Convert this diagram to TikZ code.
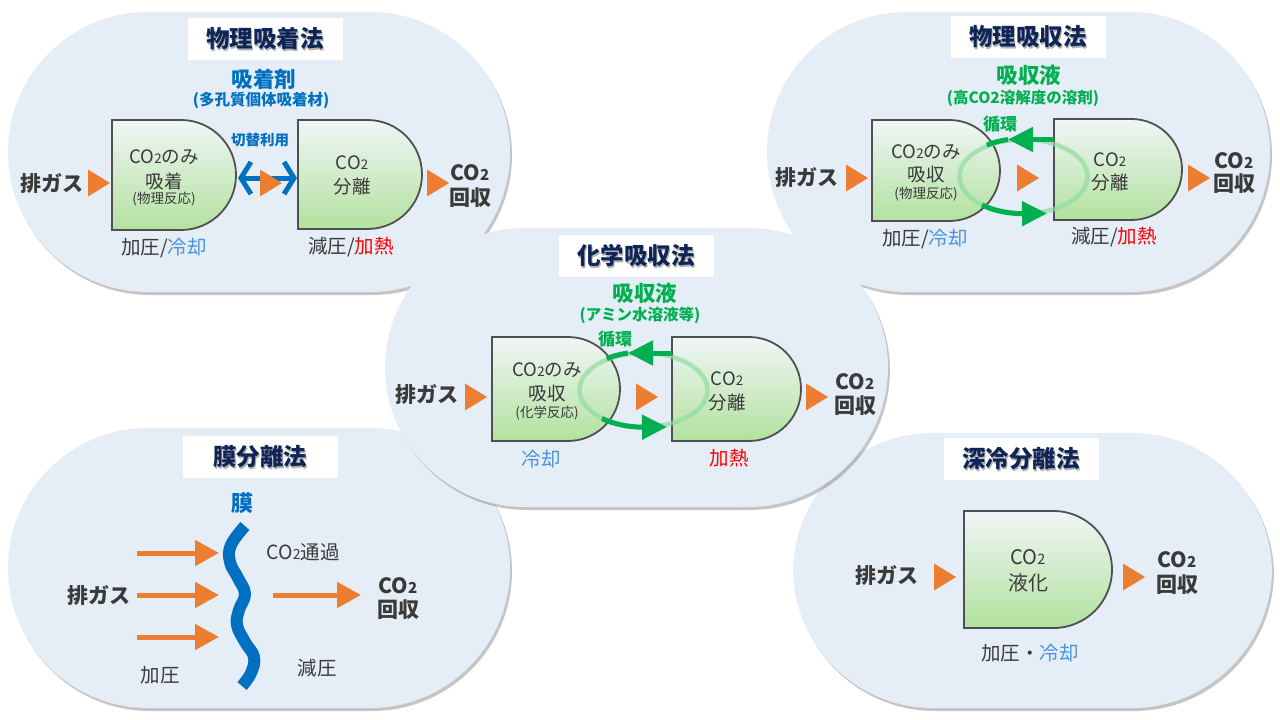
\documentclass[tikz,border=0pt]{standalone}
\usepackage{fontspec}
\setmainfont{Noto Sans CJK JP}
\usepackage{graphicx}
\usetikzlibrary{arrows.meta, shadows}
\definecolor{panelBack} {HTML}{E5EDF7}
\definecolor{titleNavy} {HTML}{0F2557}
\definecolor{inkgray}   {HTML}{3A3A3A}
\definecolor{sorbBlue}  {HTML}{0070C0}
\definecolor{coolBlue}  {HTML}{4A94DC}
\definecolor{heatRed}   {HTML}{FF0000}
\definecolor{liqGreen}  {HTML}{00B050}
\definecolor{ringGreen} {HTML}{8FDDA0}
\definecolor{gasOrange} {HTML}{ED7D31}
\definecolor{boxTop}    {HTML}{F0F6F7}
\definecolor{boxBottom} {HTML}{B2E19E}
\definecolor{boxLine}   {HTML}{505050}
\newcommand\cotwo{CO\scalebox{0.72}{2}}
\newcommand\gastri[1]{\fill[gasOrange] (#1) ++(-11,-13.5) -- ++(22,13.5) -- ++(-22,13.5) -- cycle;}
\newcommand\dshape[4]{\draw[dbox] (#1,#2) -- ({#1+#3-#4/2},#2)
    arc[start angle=-90, end angle=90, radius={#4/2}] -- (#1,{#2+#4}) -- cycle;}
\newcommand\methodtitle[3]{\node[titlebox] (#1) at (#2) {};
  \node[titletxt, text=black!30] at ([xshift=1.2pt,yshift=-1.2pt]#1.center) {#3};
  \node[titletxt] at (#1.center) {#3};}

\begin{document}
\begin{tikzpicture}[x=1pt, y=-1pt,
    panel/.style={fill=panelBack, rounded corners=140pt,
        drop shadow={shadow xshift=2pt, shadow yshift=-3pt, fill=black!50, opacity=.45}},
    titlebox/.style={fill=white, minimum width=155pt, minimum height=42pt, inner sep=0pt},
    titletxt/.style={font=\fontsize{23.5}{26}\selectfont\bfseries, text=titleNavy, inner sep=0pt},
    dbox/.style={draw=boxLine, line width=1.8pt, top color=boxTop, bottom color=boxBottom},
    txt/.style={font=\fontsize{18.5}{22}\selectfont, text=inkgray, inner sep=0pt},
    note/.style={font=\fontsize{13.5}{15}\selectfont, text=inkgray, inner sep=0pt},
    cond/.style={font=\fontsize{19.5}{22}\selectfont, text=inkgray, inner sep=0pt},
    gas/.style={font=\fontsize{21}{24}\selectfont\bfseries, text=inkgray, inner sep=0pt},
    agent/.style={font=\fontsize{21.5}{24}\selectfont\bfseries, inner sep=0pt},
    agentsub/.style={font=\fontsize{15.5}{17}\selectfont\bfseries, inner sep=0pt},
    ring/.style={draw=ringGreen, line width=4.5pt, opacity=.7},
    circline/.style={draw=liqGreen, line width=5pt},
    circarr/.style={circline, -{Triangle[length=25pt,width=24pt]}},
    swaparr/.style={draw=sorbBlue, line width=5pt,
        {Straight Barb[length=10pt,width=32pt]}-{Straight Barb[length=10pt,width=32pt]}},
    gasarr/.style={draw=gasOrange, line width=5pt, -{Triangle[length=24pt,width=25pt]}},
    membrane/.style={draw=sorbBlue, line width=12pt}
]
\fill[white] (0,0) rectangle (1280,720);
\useasboundingbox (0,0) rectangle (1280,720);

% ---- physical adsorption
\fill[panel] (8,12) rectangle (510,292);
\methodtitle{t1}{265,39}{物理吸着法}
\node[agent, text=sorbBlue] (ag1) at (264,79) {吸着剤};
\node[agentsub, text=sorbBlue] (ag1s) at (261,100) {(多孔質個体吸着材)};
\dshape{112}{120}{124}{110}
\dshape{298}{120}{124}{109}
\node[txt] (a1a) at (164,157) {\cotwo のみ};
\node[txt] (a1b) at (164,181) {吸着};
\node[note] (a1c) at (164,199) {(物理反応)};
\node[txt] (a2a) at (352,163) {\cotwo};
\node[txt] (a2b) at (352,187) {分離};
\node[gas] (g1) at (52,183) {排ガス};
\coordinate (g1t) at (99,183);
\gastri{g1t}
\coordinate (sw1) at (238,178);
\coordinate (sw2) at (297,178);
\draw[swaparr] (sw1) -- (sw2);
\node[agentsub, text=sorbBlue, font=\fontsize{14.5}{16}\selectfont\bfseries] (sw) at (260,140) {切替利用};
\coordinate (m1t) at (271,183);
\gastri{m1t}
\coordinate (r1t) at (438,183);
\gastri{r1t}
\node[gas] (r1a) at (470,173) {\cotwo};
\node[gas] (r1b) at (470,198) {回収};
\node[cond] (c1a) at (164,248) {加圧/\textcolor{coolBlue}{冷却}};
\node[cond] (c1b) at (351,247) {減圧/\textcolor{heatRed}{加熱}};

% ---- physical absorption
\fill[panel] (767,12) rectangle (1270,292);
\methodtitle{t2}{1028,37}{物理吸収法}
\node[agent, text=liqGreen] (ag2) at (1029,75) {吸収液};
\node[agentsub, text=liqGreen] (ag2s) at (1023,98) {(高CO2溶解度の溶剤)};
\dshape{872}{120}{128}{101}
\dshape{1054}{119}{128}{101}
\node[txt] (b1a) at (926,152) {\cotwo のみ};
\node[txt] (b1b) at (926,175) {吸収};
\node[note] (b1c) at (926,194) {(物理反応)};
\node[txt] (b2a) at (1110,160) {\cotwo};
\node[txt] (b2b) at (1110,183) {分離};
\draw[ring] (1023.5,176.5) ellipse [x radius=64, y radius=37];
\coordinate (p2top) at (1054,139.5);
\coordinate (p2tip) at (1008,139.5);
\draw[circarr] (p2top) -- (p2tip);
\draw[circline] (p2tip) arc[start angle=-104, end angle=-125, x radius=64, y radius=37];
\coordinate (p2bot) at (982,205);
\coordinate (p2end) at (1047,213.5);
\draw[circarr] (p2bot) arc[start angle=130, end angle=90, x radius=64, y radius=37] -- (p2end);
\node[agentsub, text=liqGreen, font=\fontsize{17}{20}\selectfont\bfseries] (lp2) at (1000,124) {循環};
\node[gas] (g2) at (807,177) {排ガス};
\coordinate (g2t) at (857,178);
\gastri{g2t}
\coordinate (m2t) at (1028,178);
\gastri{m2t}
\coordinate (r2t) at (1199,178);
\gastri{r2t}
\node[gas] (r2a) at (1234,161) {\cotwo};
\node[gas] (r2b) at (1234,184) {回収};
\node[cond] (c2a) at (925,239) {加圧/\textcolor{coolBlue}{冷却}};
\node[cond] (c2b) at (1114,237) {減圧/\textcolor{heatRed}{加熱}};

% ---- membrane separation
\fill[panel] (8,428) rectangle (510,708);
\methodtitle{t4}{260,457}{膜分離法}
\node[agent, text=sorbBlue, font=\fontsize{22}{24}\selectfont\bfseries] (mb) at (242,503) {膜};
\draw[membrane] plot[smooth, tension=0.7] coordinates {(245,526) (231,545) (230,562) (238,578)
    (245,594) (239,610) (237,625) (245,642) (254,657) (251,673) (242,686)};
\foreach \y in {553,595,637} {
    \draw[gasarr] (137,\y) -- (219,\y);
}
\coordinate (ms) at (273,595);
\coordinate (me) at (361,595);
\draw[gasarr] (ms) -- (me);
\node[gas] (g4) at (99,595) {排ガス};
\node[cond] (pass) at (303,552) {\cotwo 通過};
\node[gas] (r4a) at (398,586) {\cotwo};
\node[gas] (r4b) at (398,610) {回収};
\node[cond] (c4a) at (160,675) {加圧};
\node[cond] (c4b) at (317,668) {減圧};

% ---- cryogenic separation
\fill[panel] (793,433) rectangle (1272,708);
\methodtitle{t5}{1021,459}{深冷分離法}
\dshape{964}{511}{148}{117}
\node[txt, font=\fontsize{20}{24}\selectfont] (d1a) at (1028,557) {\cotwo};
\node[txt, font=\fontsize{20}{24}\selectfont] (d1b) at (1028,583) {液化};
\node[gas] (g5) at (887,575) {排ガス};
\coordinate (g5t) at (945,577);
\gastri{g5t}
\coordinate (r5t) at (1134,577);
\gastri{r5t}
\node[gas] (r5a) at (1177,560) {\cotwo};
\node[gas] (r5b) at (1177,585) {回収};
\node[cond] (c5) at (1030,653) {加圧・\textcolor{coolBlue}{冷却}};

% ---- chemical absorption (on top)
\fill[panel] (385,228) rectangle (888,507);
\methodtitle{t3}{636,256}{化学吸収法}
\node[agent, text=liqGreen] (ag3) at (645,293) {吸収液};
\node[agentsub, text=liqGreen] (ag3s) at (640,315) {(アミン水溶液等)};
\dshape{492}{337}{128}{104}
\dshape{672}{337}{129}{104}
\node[txt] (e1a) at (547,370) {\cotwo のみ};
\node[txt] (e1b) at (547,394) {吸収};
\node[note] (e1c) at (547,413) {(化学反応)};
\node[txt] (e2a) at (727,379) {\cotwo};
\node[txt] (e2b) at (727,403) {分離};
\draw[ring] (643.5,390) ellipse [x radius=64, y radius=37];
\coordinate (p3top) at (672,353);
\coordinate (p3tip) at (628,353);
\draw[circarr] (p3top) -- (p3tip);
\draw[circline] (p3tip) arc[start angle=-104, end angle=-125, x radius=64, y radius=37];
\coordinate (p3bot) at (602,418.5);
\coordinate (p3end) at (667,427);
\draw[circarr] (p3bot) arc[start angle=130, end angle=90, x radius=64, y radius=37] -- (p3end);
\node[agentsub, text=liqGreen, font=\fontsize{17}{20}\selectfont\bfseries] (lp3) at (615,339) {循環};
\node[gas] (g3) at (427,394) {排ガス};
\coordinate (g3t) at (476,397);
\gastri{g3t}
\coordinate (m3t) at (647,397);
\gastri{m3t}
\coordinate (r3t) at (817,397);
\gastri{r3t}
\node[gas] (r3a) at (855,382) {\cotwo};
\node[gas] (r3b) at (855,406) {回収};
\node[cond, text=coolBlue] (c3a) at (541,459) {冷却};
\node[cond, text=heatRed] (c3b) at (729,458) {加熱};
\end{tikzpicture}
\end{document}
